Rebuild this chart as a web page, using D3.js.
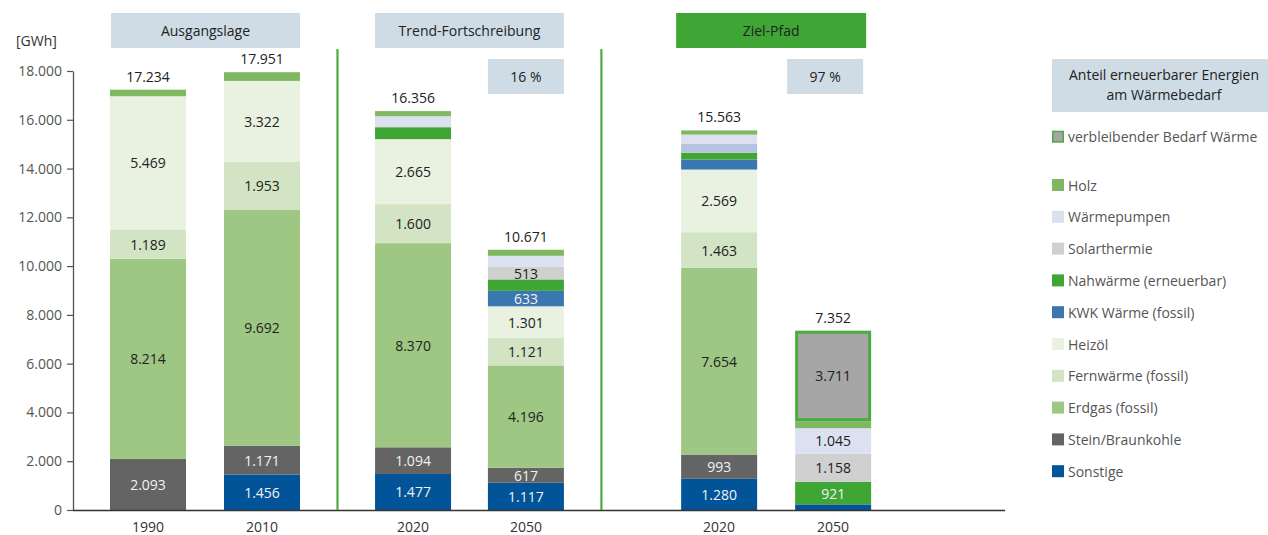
<!DOCTYPE html>
<html>
<head>
<meta charset="utf-8">
<script src="https://cdn.jsdelivr.net/npm/d3@7/dist/d3.min.js"></script>
<style>
  html, body { margin: 0; padding: 0; background: #fff; }
  svg { display: block; font-family: "Open Sans", sans-serif; }
</style>
</head>
<body>
<svg id="chart" width="1268" height="535"></svg>
<script>
// ---------------- DATA ----------------
const groups = ["Ausgangslage", "Trend-Fortschreibung", "Ziel-Pfad"];
const barYears = ["1990", "2010", "2020", "2050", "2020", "2050"];
const barGroup = [0, 0, 1, 1, 2, 2];
const shares = ["", "16 %", "97 %"];

// stacking order: bottom -> top
const seriesNames = ["Sonstige", "Stein/Braunkohle", "Erdgas (fossil)", "Fernwärme (fossil)", "Heizöl",
  "KWK Wärme (fossil)", "Nahwärme (erneuerbar)", "Solarthermie", "Wärmepumpen", "Holz", "verbleibender Bedarf Wärme"];

const sonstige    = [0,    1456, 1477, 1117, 1280, 230];
const steinkohle  = [2093, 1171, 1094, 617,  993,  0];
const erdgas      = [8214, 9692, 8370, 4196, 7654, 0];
const fernwaerme  = [1189, 1953, 1600, 1121, 1463, 0];
const heizoel     = [5469, 3322, 2665, 1301, 2569, 0];
const kwk         = [0,    0,    0,    633,  409,  0];
const nahwaerme   = [0,    0,    490,  470,  280,  921];
const solar       = [0,    0,    0,    513,  365,  1158];
const waermepump  = [0,    0,    450,  455,  380,  1045];
const holz        = [269,  357,  210,  248,  170,  287];
const verbleibend = [0,    0,    0,    0,    0,    3711];

const yTicks = [0, 2000, 4000, 6000, 8000, 10000, 12000, 14000, 16000, 18000];

const seriesValues = [sonstige, steinkohle, erdgas, fernwaerme, heizoel, kwk, nahwaerme, solar, waermepump, holz, verbleibend];

// ---------------- STYLE ----------------
const colors = {
  "Sonstige": "#005497",
  "Stein/Braunkohle": "#646464",
  "Erdgas (fossil)": "#9EC784",
  "Fernwärme (fossil)": "#D2E4C4",
  "Heizöl": "#E9F1E1",
  "KWK Wärme (fossil)": "#3A76B0",
  "Nahwärme (erneuerbar)": "#3FA535",
  "Solarthermie": "#D0D0D0",
  "Wärmepumpen": "#DCE1F0",
  "Holz": "#80B862",
  "verbleibender Bedarf Wärme": "#A6A6A6"
};
const colorOverride = { "4|Solarthermie": "#B4C3E0" };
const whiteLabel = new Set(["Sonstige", "Stein/Braunkohle", "KWK Wärme (fossil)", "Nahwärme (erneuerbar)"]);
const borderGreen = "#4AAB3F";
const boxBlue = "#CFDCE5";

const loc = d3.formatLocale({ decimal: ",", thousands: ".", grouping: [3], currency: ["", "€"] });
const fmt = loc.format(",.0f");

// ---------------- LAYOUT ----------------
const svg = d3.select("#chart");
const y = d3.scaleLinear().domain([0, 18000]).range([510, 71]);
const slotPos = [0, 1, 2.325, 3.315, 5.01, 6.01];
const x = d3.scaleLinear().domain([0, 1]).range([148, 262]);
const barW = 76;
const axisX = 73;

// y axis
const yAxis = d3.axisLeft(y).tickValues(yTicks).tickSize(6).tickSizeOuter(0).tickFormat(d => fmt(d));
const gy = svg.append("g").attr("transform", `translate(${axisX},0)`).call(yAxis);
gy.select(".domain").attr("stroke", "#555").attr("stroke-width", 1.3);
gy.selectAll(".tick line").attr("stroke", "#555").attr("stroke-width", 1.2);
gy.selectAll(".tick text").attr("fill", "#555").attr("font-size", 14).attr("x", -11)
  .attr("font-family", "Open Sans, sans-serif");

svg.append("text").attr("x", 16).attr("y", 46).attr("font-size", 14).attr("fill", "#333").text("[GWh]");

// stacked data
const stackData = barYears.map((yr, i) => {
  const o = { i };
  seriesNames.forEach((s, k) => o[s] = seriesValues[k][i]);
  return o;
});
const stack = d3.stack().keys(seriesNames)(stackData);

const gBars = svg.append("g");
stack.forEach(layer => {
  const name = layer.key;
  layer.forEach((d, i) => {
    const v = d[1] - d[0];
    if (v <= 0) return;
    const cx = x(slotPos[i]);
    const fill = colorOverride[i + "|" + name] || colors[name];
    if (name === "verbleibender Bedarf Wärme") {
      gBars.append("rect")
        .attr("x", cx - barW / 2 + 1.5).attr("width", barW - 3)
        .attr("y", y(d[1]) + 1.5).attr("height", y(d[0]) - y(d[1]) - 3)
        .attr("fill", fill).attr("stroke", borderGreen).attr("stroke-width", 3);
    } else {
      gBars.append("rect")
        .attr("x", cx - barW / 2).attr("width", barW)
        .attr("y", y(d[1])).attr("height", y(d[0]) - y(d[1]))
        .attr("fill", fill);
    }
    if (v >= 500) {
      gBars.append("text")
        .attr("x", cx).attr("y", (y(d[0]) + y(d[1])) / 2)
        .attr("text-anchor", "middle").attr("dominant-baseline", "central")
        .attr("font-size", 14)
        .attr("fill", whiteLabel.has(name) ? "#F2F2F2" : "#222")
        .text(fmt(v));
    }
  });
});

// totals
stackData.forEach((d, i) => {
  const total = d3.sum(seriesNames, s => d[s]);
  svg.append("text").attr("x", x(slotPos[i])).attr("y", y(total) - 8)
    .attr("text-anchor", "middle").attr("font-size", 14).attr("fill", "#222")
    .text(fmt(total));
});

// baseline
svg.append("line").attr("x1", axisX).attr("x2", 1005).attr("y1", 510.5).attr("y2", 510.5)
  .attr("stroke", "#333").attr("stroke-width", 1.3);

// year labels
barYears.forEach((yr, i) => {
  svg.append("text").attr("x", x(slotPos[i])).attr("y", 532)
    .attr("text-anchor", "middle").attr("font-size", 14).attr("fill", "#333").text(yr);
});

// separators
[1, 3].forEach(i => {
  const sx = x(slotPos[i]) + barW / 2 + 37.5;
  svg.append("line").attr("x1", sx).attr("x2", sx).attr("y1", 49).attr("y2", 510)
    .attr("stroke", borderGreen).attr("stroke-width", 2.2);
});

// group headers
const headerOffset = [[1, 0], [0, 0], [-5, -5]];
groups.forEach((g, gi) => {
  const idx = barGroup.map((b, i) => b === gi ? i : -1).filter(i => i >= 0);
  const x0 = x(slotPos[idx[0]]) - barW / 2 + headerOffset[gi][0];
  const x1 = x(slotPos[idx[idx.length - 1]]) + barW / 2 + headerOffset[gi][1];
  svg.append("rect").attr("x", x0).attr("y", 13).attr("width", x1 - x0).attr("height", 35)
    .attr("fill", gi === 2 ? "#3FA535" : boxBlue);
  svg.append("text").attr("x", (x0 + x1) / 2).attr("y", 30.5)
    .attr("text-anchor", "middle").attr("dominant-baseline", "central")
    .attr("font-size", 14).attr("fill", "#222").text(g);
  if (shares[gi]) {
    const last = idx[idx.length - 1];
    const px1 = x(slotPos[last]) + barW / 2 + (gi === 2 ? -8 : 0);
    const px0 = px1 - barW;
    svg.append("rect").attr("x", px0).attr("y", 59).attr("width", barW).attr("height", 35).attr("fill", boxBlue);
    svg.append("text").attr("x", (px0 + px1) / 2).attr("y", 76.5)
      .attr("text-anchor", "middle").attr("dominant-baseline", "central")
      .attr("font-size", 14).attr("fill", "#222").text(shares[gi]);
  }
});

// legend
const lg = svg.append("g");
lg.append("rect").attr("x", 1052).attr("y", 59).attr("width", 216).attr("height", 53).attr("fill", boxBlue);
lg.append("text").attr("x", 1164).attr("y", 80).attr("text-anchor", "middle").attr("font-size", 14).attr("fill", "#222")
  .text("Anteil erneuerbarer Energien");
lg.append("text").attr("x", 1164).attr("y", 100).attr("text-anchor", "middle").attr("font-size", 14).attr("fill", "#222")
  .text("am Wärmebedarf");

const legendOrder = seriesNames.slice().reverse();
legendOrder.forEach((s, k) => {
  const cy = k === 0 ? 136.7 : 185 + (k - 1) * 31.8;
  if (s === "verbleibender Bedarf Wärme") {
    lg.append("rect").attr("x", 1052.75).attr("y", cy - 5.25).attr("width", 10.5).attr("height", 10.5)
      .attr("fill", colors[s]).attr("stroke", borderGreen).attr("stroke-width", 1.5);
  } else {
    lg.append("rect").attr("x", 1052).attr("y", cy - 6).attr("width", 12).attr("height", 12).attr("fill", colors[s]);
  }
  lg.append("text").attr("x", 1068).attr("y", cy).attr("dominant-baseline", "central")
    .attr("font-size", 14).attr("fill", "#555").text(s);
});
</script>
</body>
</html>
